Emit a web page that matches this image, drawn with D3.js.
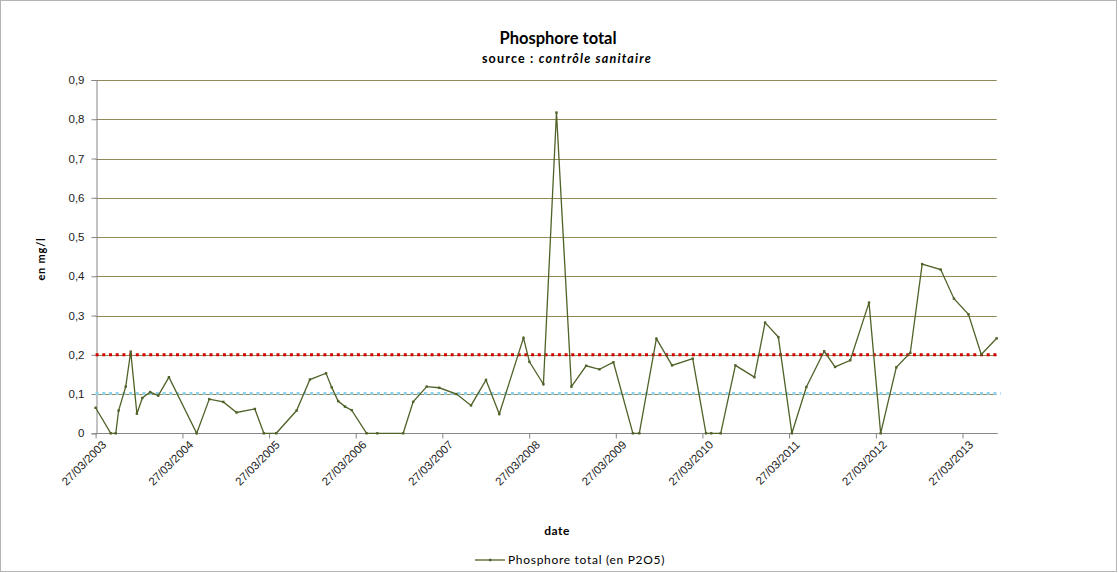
<!DOCTYPE html>
<html>
<head>
<meta charset="utf-8">
<script src="https://cdn.jsdelivr.net/npm/d3@7"></script>
<style>
  body { margin: 0; background: #fff; }
  svg { font-family: Lato, "Open Sans", sans-serif; }
</style>
</head>
<body>
<svg id="chart" width="1118" height="573"></svg>
<script>
// measurement dates (dd/mm/yyyy) and values in mg/l
var dates = ["27/03/2003","30/05/2003","20/06/2003","02/07/2003","01/08/2003","22/08/2003","17/09/2003","10/10/2003","12/11/2003","16/12/2003",
	"30/01/2004","26/05/2004","18/07/2004","15/09/2004","10/11/2004","26/01/2005","05/03/2005","26/04/2005","21/07/2005","15/09/2005",
	"22/11/2005","16/12/2005","12/01/2006","10/02/2006","10/03/2006","12/05/2006","26/06/2006","13/10/2006","24/11/2006","20/01/2007",
	"14/03/2007","26/05/2007","26/07/2007","27/09/2007","22/11/2007","03/03/2008","28/03/2008","26/05/2008","20/07/2008","21/09/2008",
	"22/11/2008","17/01/2009","17/03/2009","07/06/2009","04/07/2009","14/09/2009","19/11/2009","14/02/2010","11/04/2010","03/05/2010",
	"12/06/2010","13/08/2010","01/11/2010","16/12/2010","10/02/2011","08/04/2011","08/06/2011","22/08/2011","07/10/2011","10/12/2011",
	"27/02/2012","16/04/2012","21/06/2012","19/08/2012","08/10/2012","25/12/2012","19/02/2013","21/04/2013","14/06/2013","18/08/2013"];
var phosphore = [0.065,0,0,0.058,0.119,0.208,0.05,0.09,0.105,0.096,
	0.143,0,0.087,0.08,0.053,0.062,0,0,0.058,0.137,
	0.153,0.117,0.082,0.068,0.059,0,0,0,0.08,0.119,
	0.116,0.1,0.071,0.136,0.049,0.243,0.182,0.125,0.817,0.119,
	0.172,0.163,0.181,0,0,0.241,0.173,0.19,0,0,
	0,0.173,0.143,0.282,0.245,0,0.118,0.209,0.169,0.186,
	0.333,0,0.168,0.205,0.431,0.417,0.343,0.303,0.201,0.242];
var seuilHaut = 0.2;
var seuilBas = 0.1;
var yTicks = [0,0.1,0.2,0.3,0.4,0.5,0.6,0.7,0.8,0.9];
var xTickLabels = ["27/03/2003","27/03/2004","27/03/2005","27/03/2006","27/03/2007","27/03/2008",
	"27/03/2009","27/03/2010","27/03/2011","27/03/2012","27/03/2013"];

(function(){
var parse = d3.timeParse("%d/%m/%Y");
var data = dates.map(function(d,i){ return {date: parse(d), v: phosphore[i]}; });
var xTicks = xTickLabels.map(parse);

var svg = d3.select("#chart");
var pLeft = 95.6, pRight = 996.7, pTop = 80, pBottom = 433.3;

// chart border
svg.append("rect").attr("x",0.5).attr("y",0.5).attr("width",1116).attr("height",571)
	.attr("fill","#fff").attr("stroke","#b3b3b3");

var x = d3.scaleTime().domain([data[0].date, data[data.length-1].date]).range([pLeft, pRight]);
var y = d3.scaleLinear().domain([0,0.9]).range([pBottom, pTop]);

// gridlines
svg.append("g").selectAll("line").data(yTicks.slice(1)).join("line")
	.attr("x1",pLeft).attr("x2",pRight)
	.attr("y1",function(d){ return Math.round(y(d))+0.5; })
	.attr("y2",function(d){ return Math.round(y(d))+0.5; })
	.attr("stroke","#8f8a57").attr("stroke-width",1);

// y axis
var yAxis = svg.append("g").attr("transform","translate("+(Math.round(pLeft)+0.5)+",0)")
	.call(d3.axisLeft(y).tickValues(yTicks).tickSize(5).tickPadding(7)
		.tickFormat(function(d){ return d===0 ? "0" : d3.format(".1f")(d).replace(".",","); }));
yAxis.select(".domain").attr("stroke","#868686");
yAxis.selectAll(".tick line").attr("stroke","#868686");
yAxis.selectAll("text").attr("font-size",11.5).attr("fill","#222");

// x axis
var xAxis = svg.append("g").attr("transform","translate(0,"+(Math.round(pBottom)+0.5)+")")
	.call(d3.axisBottom(x).tickValues(xTicks).tickSize(5).tickFormat(function(d,i){ return xTickLabels[i]; }));
xAxis.select(".domain").attr("stroke","#868686").attr("d","M"+pLeft+",0H"+(pRight+1));
xAxis.selectAll(".tick line").attr("stroke","#868686");
xAxis.selectAll("text").attr("font-size",11.5).attr("fill","#222")
	.attr("text-anchor","end").attr("dy",0).attr("y",0)
	.attr("transform","translate(11,12) rotate(-45)");

// threshold lines
svg.append("line").attr("x1",pLeft).attr("x2",pRight+4)
	.attr("y1",y(seuilBas)-0.5).attr("y2",y(seuilBas)-0.5)
	.attr("stroke","#8fd0e6").attr("stroke-width",3).attr("stroke-dasharray","3,3.7");
svg.append("line").attr("x1",pLeft).attr("x2",pRight+2)
	.attr("y1",y(seuilHaut)).attr("y2",y(seuilHaut))
	.attr("stroke","#d40000").attr("stroke-width",3).attr("stroke-dasharray","3,3.7");

// data line
var line = d3.line().x(function(d){ return x(d.date); }).y(function(d){ return y(d.v); });
svg.append("path").datum(data).attr("d",line)
	.attr("fill","none").attr("stroke","#4f6228").attr("stroke-width",1.3);
svg.append("g").selectAll("rect").data(data).join("rect")
	.attr("x",function(d){ return x(d.date)-1.2; }).attr("y",function(d){ return y(d.v)-1.2; })
	.attr("width",2.4).attr("height",2.4).attr("fill","#4f6228");

// titles
svg.append("text").attr("x",558).attr("y",44).attr("text-anchor","middle")
	.attr("font-size",16.5).attr("font-weight","bold").text("Phosphore total");
var sub = svg.append("text").attr("x",567).attr("y",63).attr("text-anchor","middle")
	.attr("font-size",12.5).attr("font-weight","bold").attr("letter-spacing",1.2);
sub.append("tspan").text("source : ");
sub.append("tspan").attr("font-style","italic").text("contrôle sanitaire");

svg.append("text").attr("transform","translate(45,259) rotate(-90)").attr("text-anchor","middle")
	.attr("font-size",11).attr("font-weight","bold").attr("letter-spacing",0.8).text("en mg/l");
svg.append("text").attr("x",557).attr("y",535).attr("text-anchor","middle")
	.attr("font-size",12).attr("font-weight","bold").attr("letter-spacing",0.5).text("date");

// legend
var lg = svg.append("g").attr("transform","translate(475,560)");
lg.append("line").attr("x1",0).attr("x2",30).attr("y1",0).attr("y2",0)
	.attr("stroke","#4f6228").attr("stroke-width",1.3);
lg.append("rect").attr("x",14).attr("y",-1.2).attr("width",2.4).attr("height",2.4).attr("fill","#4f6228");
lg.append("text").attr("x",33).attr("y",4).attr("font-size",12).attr("letter-spacing",0.7)
	.text("Phosphore total (en P2O5)");
})();
</script>
</body>
</html>
